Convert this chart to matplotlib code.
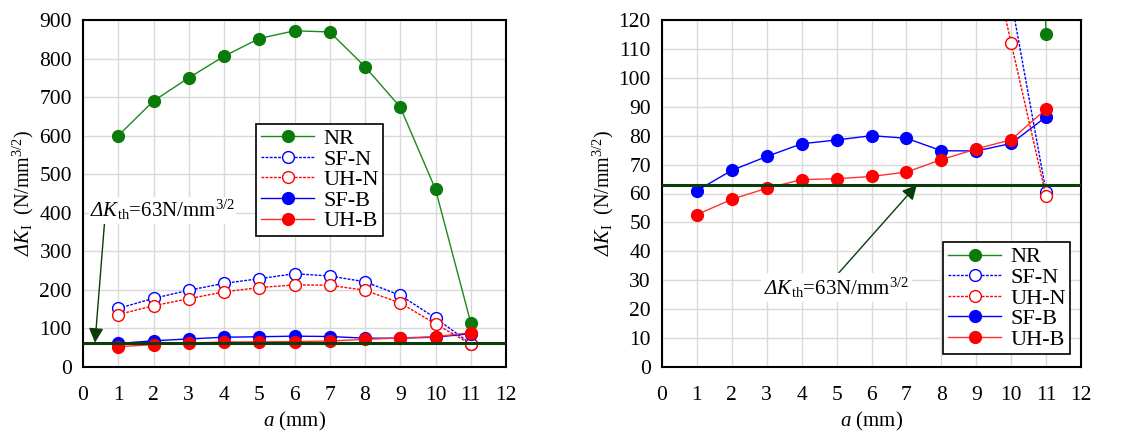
import numpy as np
import matplotlib
matplotlib.use("Agg")
import matplotlib.pyplot as plt

plt.rcParams['font.family'] = ['Liberation Serif', 'DejaVu Serif']
plt.rcParams['mathtext.fontset'] = 'custom'
plt.rcParams['mathtext.rm'] = 'Liberation Serif'
plt.rcParams['mathtext.it'] = 'Liberation Serif:italic'
plt.rcParams['mathtext.sf'] = 'Liberation Serif:italic'  # used for italic Greek
plt.rcParams['mathtext.bf'] = 'Liberation Serif:bold'

# crack depth a (mm)
a = [1, 2, 3, 4, 5, 6, 7, 8, 9, 10, 11]

# Delta K_I (N/mm^3/2)
nr   = [600, 690, 750, 806, 852, 872, 869, 779, 674, 461, 115]
sf_n = [152, 178, 199, 217, 229, 242, 236, 221, 186, 127, 60.5]
uh_n = [136, 159, 177, 195, 206, 213, 212, 199, 166, 112, 59]
sf_b = [61, 68, 72.8, 77.2, 78.5, 80, 79.1, 74.8, 74.7, 77.3, 86.5]
uh_b = [52.7, 58, 61.8, 64.8, 65.1, 65.9, 67.4, 71.7, 75.4, 78.6, 89.2]

dk_th = 63

series = [
    ("NR",   nr,   dict(color="#1a8a1a", ls="-",  mfc="#0a7a0a", mec="#0a7a0a")),
    ("SF-N", sf_n, dict(color="#0000ff", ls=(0, (2, 1)), mfc="white", mec="#0000ff")),
    ("UH-N", uh_n, dict(color="#ff0000", ls=(0, (2, 1)), mfc="white", mec="#ff0000")),
    ("SF-B", sf_b, dict(color="#0000ff", ls="-",  mfc="#0000ff", mec="#0000ff")),
    ("UH-B", uh_b, dict(color="#ff3030", ls="-",  mfc="#ff0000", mec="#ff0000")),
]

fig = plt.figure(figsize=(11.46, 4.34), dpi=100)
ax1 = fig.add_axes([83/1146, 1 - 367/434, 423/1146, 347/434])
ax2 = fig.add_axes([662/1146, 1 - 367/434, 419/1146, 347/434])

lbl = r'$\mathsf{ΔK}_{\rm I}$  (N/mm$^{3/2}$)'
note = r'$\mathsf{ΔK}_{\rm th}$=63N/mm$^{3/2}$'

for ax, ymax, ystep in [(ax1, 900, 100), (ax2, 120, 10)]:
    for name, vals, st in series:
        ax.plot(a, vals, marker="o", ms=8.5, lw=1.0, label=name, clip_on=True, **st)
    ax.axhline(dk_th, color="#0b3d0b", lw=2.2, zorder=3)
    ax.set_xlim(0, 12)
    ax.set_ylim(0, ymax)
    ax.set_xticks(np.arange(0, 13, 1))
    ax.set_yticks(np.arange(0, ymax + 1, ystep))
    ax.grid(True, color="#d9d9d9", lw=1.0)
    ax.set_axisbelow(True)
    ax.tick_params(axis="x", length=0, labelsize=15.5, pad=14)
    ax.tick_params(axis="y", length=0, labelsize=15.5, pad=8)
    for sp in ax.spines.values():
        sp.set_linewidth(1.5)
        sp.set_color("black")
    ax.set_xlabel(r'$\mathit{a}$ (mm)', fontsize=15, labelpad=3)
    ax.set_ylabel(lbl, fontsize=14.5, labelpad=2)

leg_kw = dict(fontsize=16, frameon=True, fancybox=False, edgecolor="black",
              framealpha=1, handlelength=2.4, borderpad=0.2, labelspacing=0.0,
              handletextpad=0.4, borderaxespad=0)
ax1.legend(loc="upper left", bbox_to_anchor=(0.41, 0.70), **leg_kw)
ax1.get_legend().get_frame().set_linewidth(1.2)
ax2.legend(loc="lower right", bbox_to_anchor=(0.974, 0.037), **leg_kw)
ax2.get_legend().get_frame().set_linewidth(1.2)

ax1.annotate(note, xy=(0.34, dk_th), xytext=(0.2, 375), fontsize=15,
             ha="left", va="bottom",
             bbox=dict(fc="white", ec="none", pad=1),
             arrowprops=dict(arrowstyle="-|>", color="#0b3d0b", lw=1.0,
                             mutation_scale=22, shrinkA=0, shrinkB=0,
                             relpos=(0.1, 0)))
ax2.annotate(note, xy=(7.3, dk_th), xytext=(5.0, 27.5), fontsize=15,
             ha="center", va="center",
             bbox=dict(fc="white", ec="none", pad=2),
             arrowprops=dict(arrowstyle="-|>", color="#0b3d0b", lw=1.0,
                             mutation_scale=22, shrinkA=0, shrinkB=0,
                             relpos=(0.5, 1)))

fig.savefig("out.png", dpi=100)
